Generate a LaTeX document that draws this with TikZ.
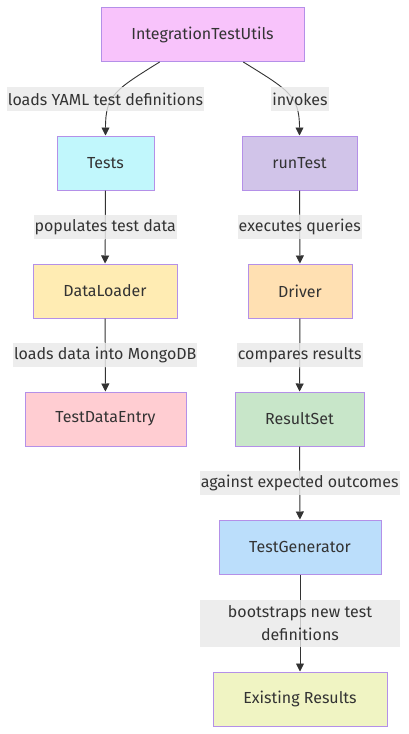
\documentclass[tikz,border=0pt]{standalone}
\usepackage{fontspec}
\setmainfont{Fira Sans}
\usetikzlibrary{arrows.meta,calc}
\definecolor{txt}{HTML}{333333}
\definecolor{bord}{HTML}{B490E8}
\definecolor{lblbg}{HTML}{E8E8E8}
\definecolor{cITU}{HTML}{F8C3FB}
\definecolor{cTests}{HTML}{C1F7FC}
\definecolor{cRun}{HTML}{D1C4E9}
\definecolor{cDL}{HTML}{FFECB3}
\definecolor{cDrv}{HTML}{FFE0B2}
\definecolor{cTDE}{HTML}{FFCDD2}
\definecolor{cRS}{HTML}{C8E6C9}
\definecolor{cTG}{HTML}{BBDEFB}
\definecolor{cER}{HTML}{F0F4C3}
\begin{document}
\begin{tikzpicture}[x=1pt,y=-1pt,
  box/.style={draw=bord,line width=1pt,minimum height=54pt,inner sep=0pt,text=txt,font=\fontsize{16}{19}\selectfont},
  lbl/.style={fill=lblbg,fill opacity=0.8,text opacity=1,text=txt,inner xsep=1pt,inner ysep=0pt,minimum height=24pt,font=\fontsize{16}{23}\selectfont,align=center},
  edge/.style={draw=txt,line width=0.9pt,-{Triangle[length=8pt,width=8pt]}}]
\useasboundingbox (0,0) rectangle (408,734);
\node[box,fill=cITU,minimum width=203pt] (itu) at (202.5,34.5) {IntegrationTestUtils};
\node[box,fill=cTests,minimum width=97pt] (tests) at (105.5,163) {Tests};
\node[box,fill=cRun,minimum width=115pt] (run) at (299.5,163) {runTest};
\node[box,fill=cDL,minimum width=144pt] (dl) at (105,291) {DataLoader};
\node[box,fill=cDrv,minimum width=104pt] (drv) at (300,291) {Driver};
\node[box,fill=cTDE,minimum width=161pt] (tde) at (105.5,419) {TestDataEntry};
\node[box,fill=cRS,minimum width=129pt] (rs) at (299.5,419) {ResultSet};
\node[box,fill=cTG,minimum width=162pt] (tg) at (300,547) {TestGenerator};
\node[box,fill=cER,minimum width=174pt] (er) at (300,699) {Existing Results};

\coordinate (s1) at ($(itu.south west)!0.29!(itu.south east)$);
\coordinate (s2) at ($(itu.south west)!0.70!(itu.south east)$);
\draw[edge] (s1) .. controls ($(s1)+(-45,28)$) and ($(tests.north)+(0,-40)$) .. (tests.north);
\draw[edge] (s2) .. controls ($(s2)+(45,28)$) and ($(run.north)+(0,-40)$) .. (run.north);
\node[lbl] (l1) at (105.5,99) {loads YAML test definitions};
\node[lbl] (l2) at (300,99) {invokes};

\draw[edge] (tests) -- node[lbl] (l3) {populates test data} (dl);
\draw[edge] (dl) -- node[lbl] (l4) {loads data into MongoDB} (tde);
\draw[edge] (run) -- node[lbl] (l5) {executes queries} (drv);
\draw[edge] (drv) -- node[lbl] (l6) {compares results} (rs);
\draw[edge] (rs) -- node[lbl] (l7) {against expected outcomes} (tg);
\draw[edge] (tg) -- node[lbl,minimum width=200pt,minimum height=47pt] (l8) {bootstraps new test\\definitions} (er);
\end{tikzpicture}
\end{document}
